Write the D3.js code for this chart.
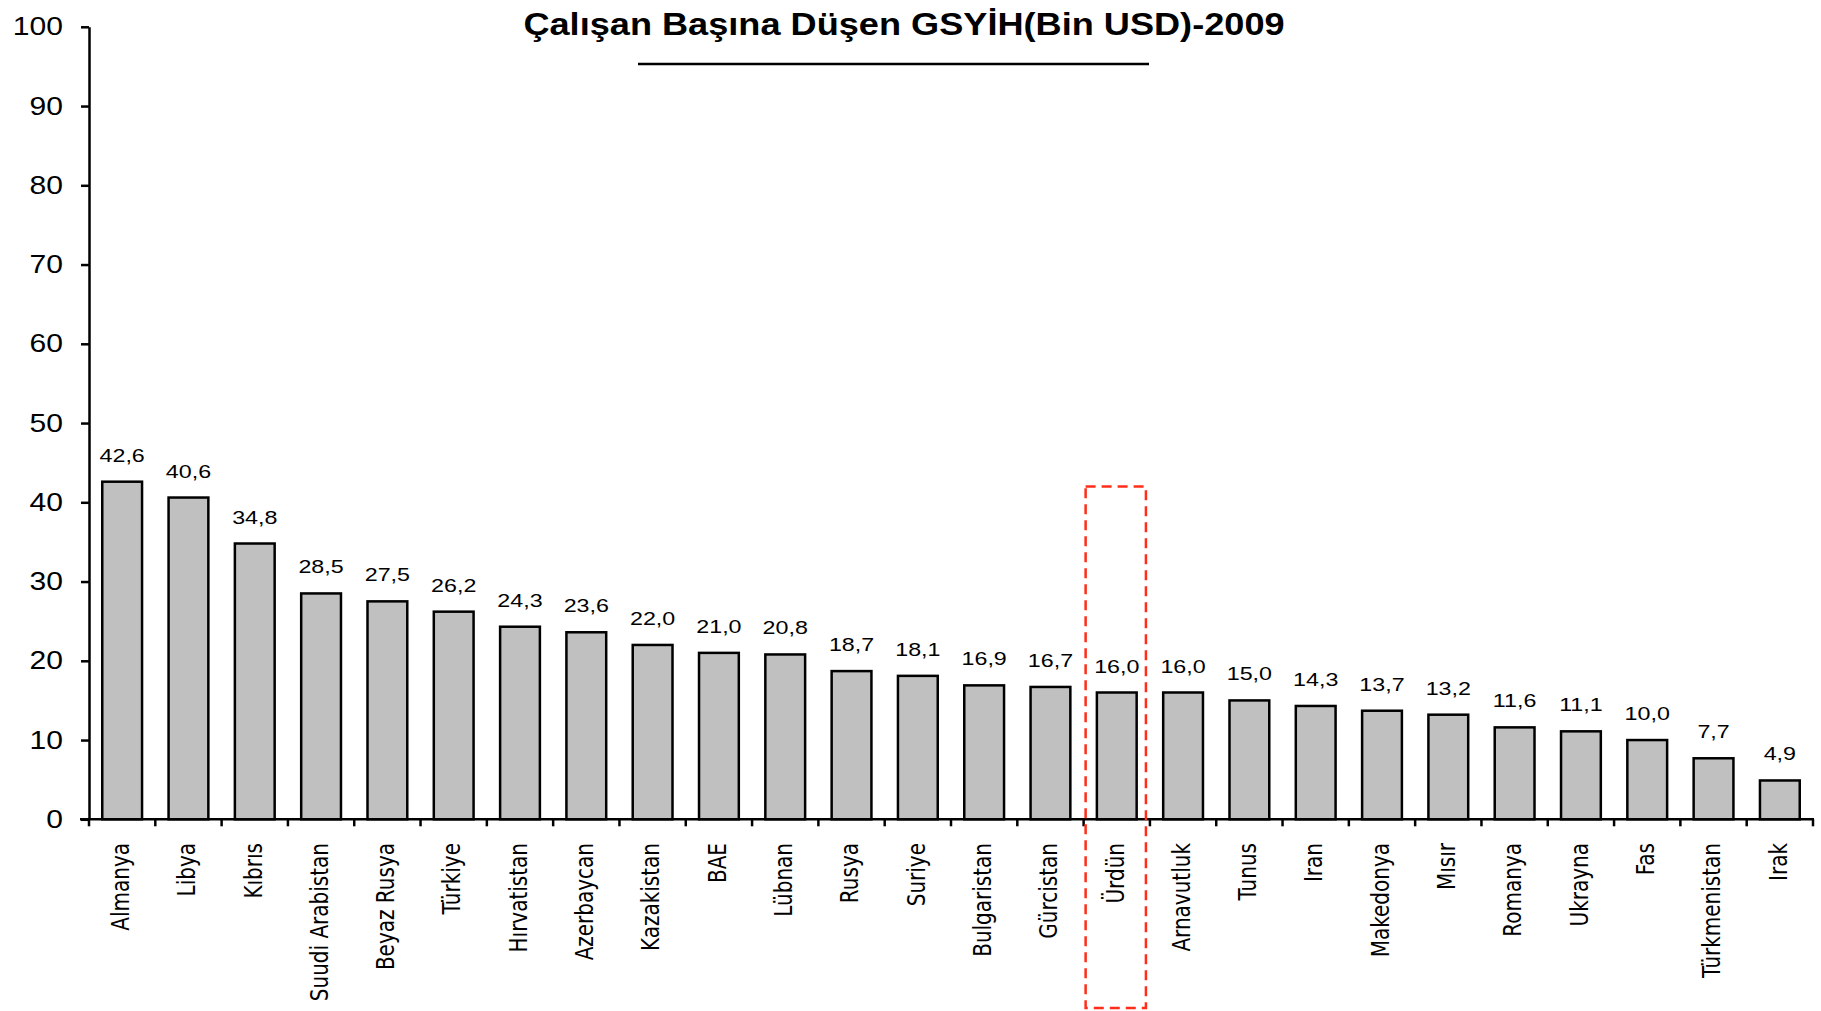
<!DOCTYPE html>
<html>
<head>
<meta charset="utf-8">
<script src="https://cdn.jsdelivr.net/npm/d3@7"></script>
<style>
  body { margin: 0; background: #fff; }
  svg { display: block; }
</style>
</head>
<body>
<div id="chart"></div>
<script>
// data
const countries = ["Almanya", "Libya", "Kıbrıs", "Suudi Arabistan", "Beyaz  Rusya", "Türkiye",
    "Hırvatistan", "Azerbaycan", "Kazakistan", "BAE", "Lübnan", "Rusya", "Suriye", "Bulgaristan",
    "Gürcistan", "Ürdün", "Arnavutluk", "Tunus", "Iran", "Makedonya", "Mısır", "Romanya",
    "Ukrayna", "Fas", "Türkmenistan", "Irak"];
const gdpPerWorker = [42.6, 40.6, 34.8, 28.5, 27.5, 26.2, 24.3, 23.6, 22.0, 21.0, 20.8, 18.7,
    18.1, 16.9, 16.7, 16.0, 16.0, 15.0, 14.3, 13.7, 13.2, 11.6, 11.1, 10.0, 7.7, 4.9];
const yTicks = [0, 10, 20, 30, 40, 50, 60, 70, 80, 90, 100];
const highlighted = "Ürdün";
const titleText = "Çalışan Başına Düşen GSYİH(Bin USD)-2009";

const width = 1821, height = 1011;
const svg = d3.select("#chart").append("svg")
    .attr("width", width).attr("height", height);

const x = d3.scaleBand().domain(countries).range([89, 1813]).padding(0);
const y = d3.scaleLinear().domain([0, 100]).range([819.3, 26.8]);
const trFormat = d3.formatLocale({decimal: ",", thousands: ".", grouping: [3], currency: ["", ""]}).format(".1f");

// title
svg.append("g")
    .attr("transform", "translate(904,35) scale(1.13,1)")
    .append("text")
    .attr("text-anchor", "middle")
    .style("font-family", "Arial, 'Liberation Sans', sans-serif")
    .style("font-weight", "bold")
    .style("font-size", "32px")
    .text(titleText);
svg.append("line")
    .attr("x1", 638).attr("x2", 1149).attr("y1", 64).attr("y2", 64)
    .attr("stroke", "#000").attr("stroke-width", 2.5);

// bars
const barW = x.bandwidth() * 0.6;
svg.append("g").selectAll("rect")
    .data(gdpPerWorker)
    .join("rect")
    .attr("x", (d, i) => x(countries[i]) + (x.bandwidth() - barW) / 2)
    .attr("y", d => y(d))
    .attr("width", barW)
    .attr("height", d => y(0) - y(d))
    .attr("fill", "#c0c0c0")
    .attr("stroke", "#000")
    .attr("stroke-width", 2.5);

// value labels
svg.append("g").selectAll("g")
    .data(gdpPerWorker)
    .join("g")
    .attr("transform", (d, i) => `translate(${x(countries[i]) + x.bandwidth() / 2},${y(d) - 20}) scale(1.33,1)`)
    .append("text")
    .attr("text-anchor", "middle")
    .style("font-family", "Arial, 'Liberation Sans', sans-serif")
    .style("font-size", "17.5px")
    .text(d => trFormat(d));

// y axis
const yAxis = svg.append("g")
    .attr("transform", "translate(89,0)")
    .call(d3.axisLeft(y).tickValues(yTicks).tickSize(8).tickSizeOuter(0).tickPadding(18));
yAxis.select(".domain").attr("stroke-width", 2.5);
yAxis.selectAll(".tick line").attr("stroke-width", 2.5);
yAxis.selectAll(".tick text")
    .attr("x", -26 / 1.18)
    .attr("transform", "scale(1.18,1)")
    .style("font-family", "Arial, 'Liberation Sans', sans-serif")
    .style("font-size", "25.5px")
    .attr("fill", "#000");

// x axis line with ticks at category edges
const xAxisG = svg.append("g");
xAxisG.append("line")
    .attr("x1", 80).attr("x2", x.range()[1] + 1)
    .attr("y1", y(0)).attr("y2", y(0))
    .attr("stroke", "#000").attr("stroke-width", 2.5);
const edges = countries.map(c => x(c)).concat([x.range()[1]]);
xAxisG.selectAll(".edge")
    .data(edges)
    .join("line")
    .attr("class", "edge")
    .attr("x1", d => d).attr("x2", d => d)
    .attr("y1", y(0)).attr("y2", y(0) + 7)
    .attr("stroke", "#000").attr("stroke-width", 2.5);

// category labels
xAxisG.selectAll(".cat")
    .data(countries)
    .join("g")
    .attr("class", "cat")
    .attr("transform", d => `translate(${x(d) + x.bandwidth() / 2 - 2},843) scale(1.25,1) rotate(-90)`)
    .append("text")
    .attr("text-anchor", "end")
    .attr("dy", "0.35em")
    .style("font-family", "'DejaVu Sans', Verdana, sans-serif")
    .style("font-size", "20px")
    .text(d => d);

// highlight box
svg.append("rect")
    .attr("x", x(highlighted) + 2)
    .attr("y", y(42))
    .attr("width", x.bandwidth() - 6)
    .attr("height", height - 3 - y(42))
    .attr("fill", "none")
    .attr("stroke", "#ff2d1a")
    .attr("stroke-width", 2.5)
    .attr("stroke-dasharray", "10,6");
</script>
</body>
</html>
